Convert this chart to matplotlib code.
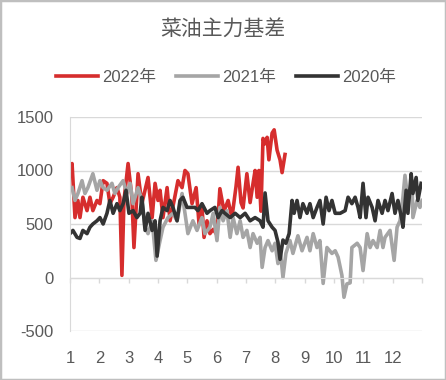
import matplotlib.pyplot as plt
from matplotlib.patches import Rectangle

plt.rcParams['font.family'] = ['Liberation Sans', 'Noto Sans CJK SC', 'DejaVu Sans']
plt.rcParams['axes.unicode_minus'] = False

# --------- data (x = month position, 1..13) -------- #
x_2022 = [1.00, 1.07, 1.17, 1.27, 1.34, 1.44, 1.58, 1.68, 1.78, 1.92, 2.02, 2.13, 2.26, 2.36,
          2.47, 2.60, 2.70, 2.77, 2.84, 2.98, 3.11, 3.18, 3.32, 3.45, 3.66, 3.80, 3.90, 4.00,
          4.07, 4.17, 4.31, 4.41, 4.55, 4.68, 4.82, 4.92, 5.02, 5.16, 5.30, 5.40, 5.50, 5.57,
          5.67, 5.77, 5.88, 6.01, 6.11, 6.25, 6.39, 6.52, 6.66, 6.73, 6.83, 6.90, 7.03, 7.14,
          7.24, 7.31, 7.38, 7.44, 7.51, 7.58, 7.65, 7.72, 7.78, 7.89, 7.96, 8.06, 8.16, 8.23,
          8.33]
y_2022 = [980, 1065, 560, 720, 560, 750, 625, 750, 625, 720, 690, 905, 880, 690,
          750, 840, 750, 20, 720, 1065, 750, 280, 970, 690, 935, 560, 880, 720,
          815, 560, 840, 530, 720, 905, 840, 1000, 970, 690, 840, 500, 655, 375,
          530, 410, 450, 400, 830, 620, 720, 560, 850, 1030, 700, 650, 970, 700,
          880, 1000, 750, 1000, 620, 1300, 1250, 1310, 1100, 1350, 1380, 1190, 1100, 980,
          1150]

x_2021 = [1.07, 1.17, 1.27, 1.41, 1.51, 1.61, 1.78, 1.92, 2.02, 2.13, 2.26, 2.43, 2.53, 2.64,
          2.81, 2.94, 3.05, 3.15, 3.32, 3.45, 3.56, 3.66, 3.80, 3.93, 4.07, 4.17, 4.34, 4.51,
          4.65, 4.82, 4.92, 5.02, 5.19, 5.33, 5.50, 5.60, 5.77, 5.88, 6.01, 6.11, 6.22, 6.35,
          6.46, 6.56, 6.69, 6.80, 6.90, 7.03, 7.14, 7.24, 7.38, 7.48, 7.55, 7.65, 7.75, 7.89,
          7.99, 8.09, 8.16, 8.26, 8.36, 8.50, 8.60, 8.77, 8.91, 9.08, 9.18, 9.29, 9.42, 9.52,
          9.63, 9.76, 9.93, 10.04, 10.14, 10.27, 10.34, 10.44, 10.55, 10.61, 10.79, 10.89, 10.99,
          11.13, 11.23, 11.33, 11.47, 11.57, 11.67, 11.74, 11.91, 12.05, 12.15, 12.25, 12.35,
          12.42, 12.52, 12.66, 12.69, 12.83, 12.93, 13.00]
y_2021 = [840, 720, 785, 905, 785, 840, 970, 815, 905, 840, 815, 880, 785, 840,
          905, 785, 880, 690, 840, 720, 470, 410, 530, 160, 345, 470, 560, 600,
          530, 785, 600, 410, 530, 440, 560, 410, 470, 600, 345, 655, 530, 625,
          375, 560, 410, 530, 375, 440, 280, 410, 320, 375, 95, 280, 345, 250,
          320, 130, 280, 0, 225, 345, 225, 390, 250, 375, 250, 410, 280, 345,
          -55, 280, 225, 250, 190, 20, -185, -60, -50, 280, 320, 280, 65,
          410, 280, 345, 280, 440, 280, 375, 440, 160, 470, 530, 750,
          955, 720, 905, 560, 720, 655, 720]

x_2020 = [1.00, 1.10, 1.24, 1.34, 1.44, 1.58, 1.68, 1.78, 1.92, 2.02, 2.13, 2.26, 2.36, 2.47,
          2.60, 2.70, 2.81, 2.91, 3.01, 3.15, 3.28, 3.39, 3.45, 3.56, 3.66, 3.80, 3.90, 3.97,
          4.07, 4.17, 4.31, 4.41, 4.51, 4.65, 4.75, 4.85, 4.99, 5.09, 5.26, 5.36, 5.50, 5.67,
          5.77, 5.94, 6.05, 6.18, 6.28, 6.46, 6.63, 6.80, 6.97, 7.14, 7.31, 7.48, 7.58, 7.65,
          7.75, 7.89, 7.99, 8.09, 8.16, 8.26, 8.36, 8.47, 8.57, 8.64, 8.74, 8.84, 8.94, 9.08,
          9.18, 9.29, 9.42, 9.52, 9.63, 9.73, 9.83, 9.93, 10.04, 10.21, 10.38, 10.48, 10.61,
          10.72, 10.82, 10.89, 10.99, 11.09, 11.16, 11.30, 11.40, 11.50, 11.64, 11.74, 11.84,
          11.98, 12.08, 12.18, 12.32, 12.35, 12.46, 12.52, 12.63, 12.69, 12.80, 12.86, 12.97]
y_2020 = [410, 440, 375, 365, 440, 410, 470, 500, 530, 560, 500, 600, 720, 600,
          690, 625, 690, 815, 600, 625, 560, 600, 750, 440, 600, 440, 530, 200,
          530, 655, 625, 720, 655, 530, 720, 750, 655, 655, 655, 625, 690, 600,
          625, 655, 560, 625, 600, 560, 600, 560, 600, 530, 560, 530, 470, 790,
          530, 470, 440, 330, 170, 350, 320, 410, 720, 600, 720, 560, 690, 600,
          690, 560, 655, 720, 500, 750, 625, 720, 600, 600, 625, 750, 690,
          750, 655, 560, 880, 560, 750, 655, 530, 720, 600, 720, 625,
          785, 600, 720, 530, 470, 815, 600, 970, 785, 935, 720, 880]

months = list(range(1, 14))
month_labels = [str(m) for m in range(1, 13)] + ['']
y_ticks = [-500, 0, 500, 1000, 1500]

# --------- plot -------- #
fig = plt.figure(figsize=(4.46, 3.80), dpi=100)
ax = fig.add_axes([70 / 446, 1 - 331 / 380, 352 / 446, 214 / 380])

ax.plot(x_2022, y_2022, color='#D62D2D', lw=2.6, label='2022年', solid_joinstyle='round')
ax.plot(x_2021, y_2021, color='#A5A5A5', lw=2.6, label='2021年', solid_joinstyle='round')
ax.plot(x_2020, y_2020, color='#333333', lw=2.6, label='2020年', solid_joinstyle='round')

ax.set_xlim(1, 13)
ax.set_ylim(-500, 1500)
ax.set_yticks(y_ticks)
ax.set_xticks(months)
ax.set_xticklabels(month_labels)
ax.grid(axis='y', color='#d9d9d9', lw=1.0)
ax.set_axisbelow(True)

for s in ['top', 'right']:
    ax.spines[s].set_visible(False)
ax.spines['left'].set_color('#d9d9d9')
ax.spines['bottom'].set_color('#d9d9d9')
ax.spines['bottom'].set_position(('data', 0))

ax.tick_params(axis='y', length=0, pad=12, labelsize=12, labelcolor='#595959')
ax.tick_params(axis='x', length=3.6, width=1, color='#d9d9d9', direction='out',
               pad=49, labelsize=12, labelcolor='#595959')

fig.text(0.5, 1 - 30 / 380, '菜油主力基差', ha='center', va='center', fontsize=15,
         color='#595959', family=['Noto Sans CJK SC'], weight='medium')

ax.legend(loc='center', bbox_to_anchor=(226 / 446, 1 - 77 / 380),
          bbox_transform=fig.transFigure, ncol=3, frameon=False, fontsize=12,
          handlelength=2.5, handletextpad=0.25, columnspacing=1.2, labelcolor='#595959')

fig.add_artist(Rectangle((0, 0), 1, 1, transform=fig.transFigure, fill=False,
                         edgecolor='#bfbfbf', lw=2.5))

fig.savefig('out.png', dpi=100)
